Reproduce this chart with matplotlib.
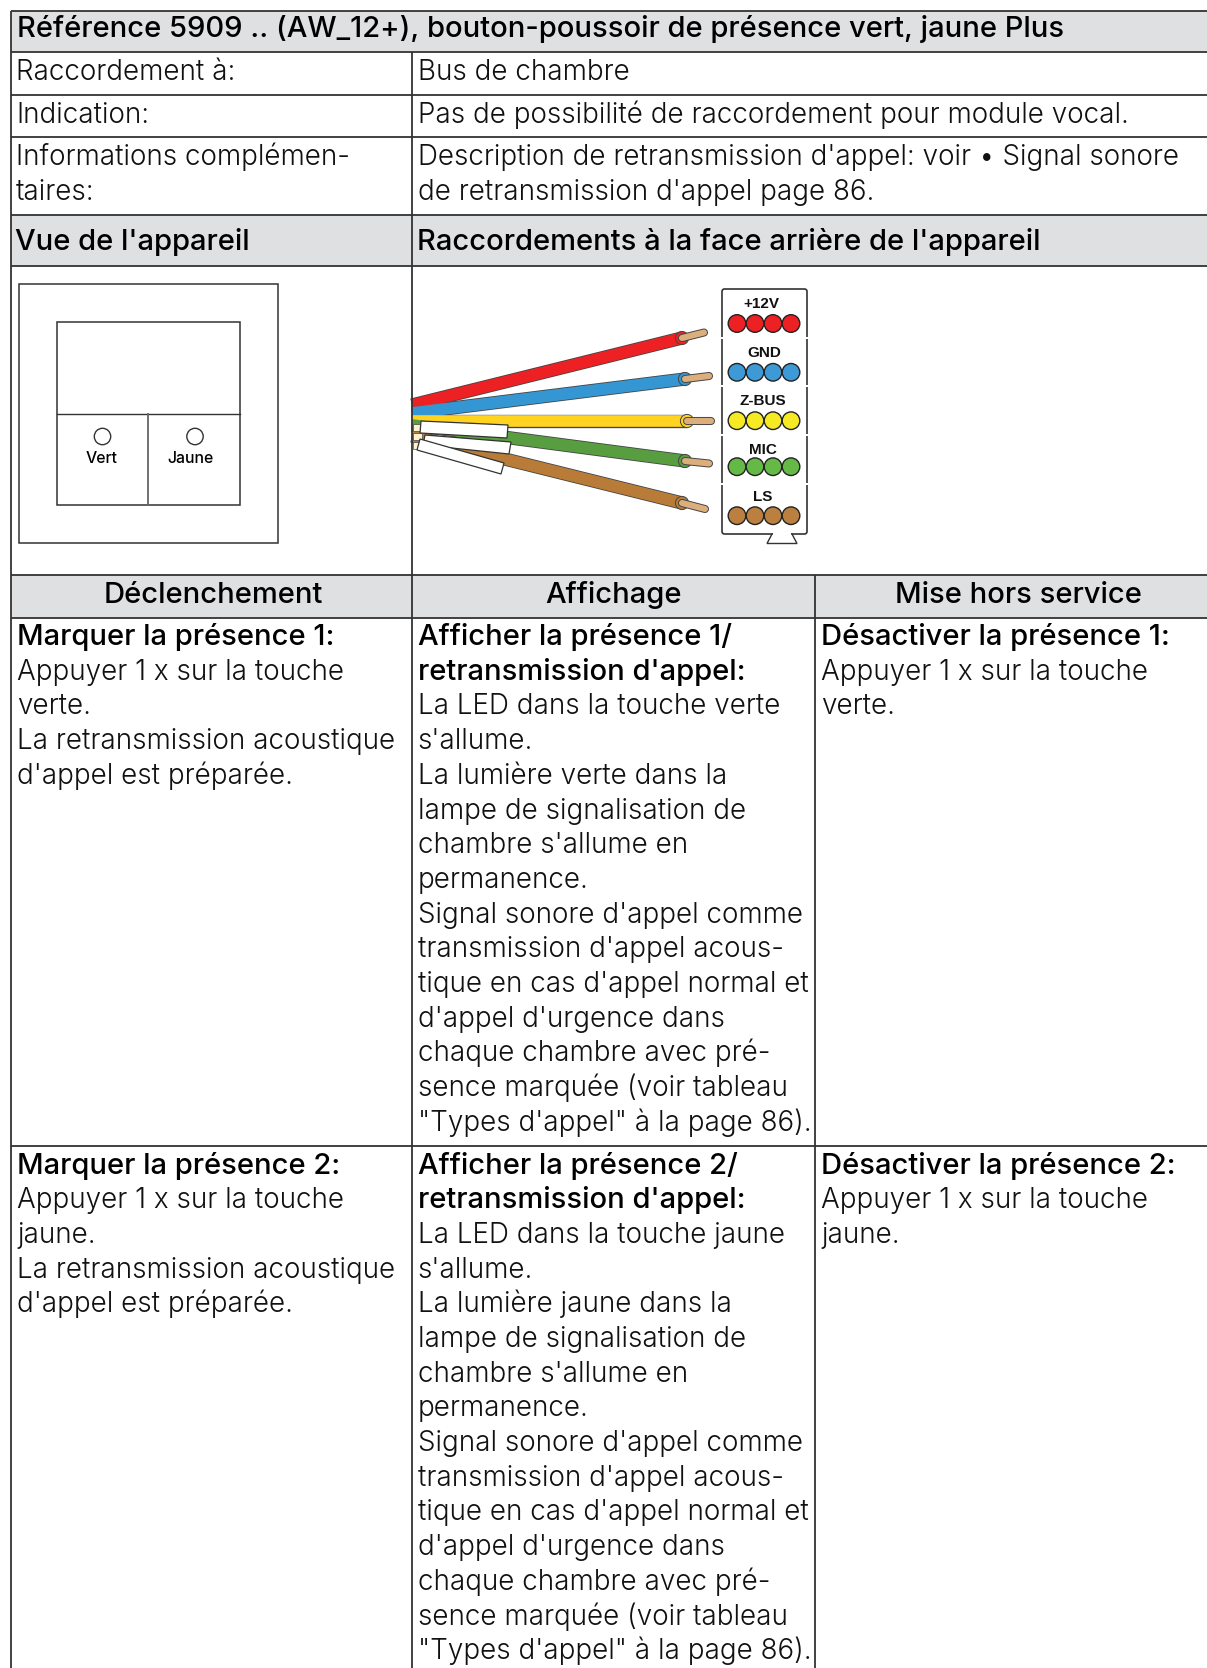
import matplotlib
matplotlib.use("Agg")
import matplotlib.pyplot as plt
from matplotlib.patches import Polygon, Circle, Rectangle, FancyBboxPatch

W, H = 1207, 1668
FONT = "Inter"
FS = 20.0
FS_HEAD = 21.0
GREY = "#dfe0e2"
LINE = "#333333"

# table text
title = "Référence 5909 .. (AW_12+), bouton-poussoir de présence vert, jaune Plus"
info_left = ["Raccordement à:", "Indication:", "Informations complémen-", "taires:"]
info_right = ["Bus de chambre",
              "Pas de possibilité de raccordement pour module vocal.",
              "Description de retransmission d'appel: voir • Signal sonore",
              "de retransmission d'appel page 86."]
head_view = "Vue de l'appareil"
head_conn = "Raccordements à la face arrière de l'appareil"
columns = ["Déclenchement", "Affichage", "Mise hors service"]

trig_1 = ["Marquer la présence 1:", "Appuyer 1 x sur la touche", "verte.",
          "La retransmission acoustique", "d'appel est préparée."]
disp_1 = ["Afficher la présence 1/", "retransmission d'appel:",
          "La LED dans la touche verte", "s'allume.", "La lumière verte dans la",
          "lampe de signalisation de", "chambre s'allume en", "permanence.",
          "Signal sonore d'appel comme", "transmission d'appel acous-",
          "tique en cas d'appel normal et", "d'appel d'urgence dans",
          "chaque chambre avec pré-", "sence marquée (voir tableau",
          "\"Types d'appel\" à la page 86)."]
off_1 = ["Désactiver la présence 1:", "Appuyer 1 x sur la touche", "verte."]
trig_2 = ["Marquer la présence 2:", "Appuyer 1 x sur la touche", "jaune.",
          "La retransmission acoustique", "d'appel est préparée."]
disp_2 = ["Afficher la présence 2/", "retransmission d'appel:",
          "La LED dans la touche jaune", "s'allume.", "La lumière jaune dans la",
          "lampe de signalisation de", "chambre s'allume en", "permanence.",
          "Signal sonore d'appel comme", "transmission d'appel acous-",
          "tique en cas d'appel normal et", "d'appel d'urgence dans",
          "chaque chambre avec pré-", "sence marquée (voir tableau",
          "\"Types d'appel\" à la page 86)."]
off_2 = ["Désactiver la présence 2:", "Appuyer 1 x sur la touche", "jaune."]

# connector
term_names = ["+12V", "GND", "Z-BUS", "MIC", "LS"]
term_colors = ["#ed2024", "#3d9ad6", "#f6ea24", "#65b946", "#bb8040"]
wire_colors = ["#ed2024", "#3497d3", "#ffd31f", "#589e40", "#b87c38"]
wire_start = [(412, 405), (412, 413), (412, 421), (412, 425), (412, 436)]
wire_end = [(682, 338), (685, 379), (687, 421), (685, 461), (682, 503)]
strip_end = [(704, 332.5), (709, 376), (711, 421), (709, 463.5), (705, 509)]
label_boxes = [[(421, 421), (508, 425), (507, 438), (420, 433)],
               [(425, 435), (511, 442), (509, 454), (423, 445)],
               [(420, 439), (504, 463), (501, 474), (417, 450)]]

fig = plt.figure(figsize=(W / 100, H / 100), dpi=100)
ax = fig.add_axes([0, 0, 1, 1])
ax.set_xlim(0, W)
ax.set_ylim(H, 0)
ax.axis("off")


def txt(x, y, s, bold=False, size=None, ha="left"):
    if size is None:
        size = FS_HEAD if bold else FS
    return ax.text(x, y, s, family=FONT, fontsize=size, ha=ha, va="baseline",
                   weight=500 if bold else 300, color="#000000" if bold else "#111111")


def hline(y, x0=10.5, x1=W):
    ax.plot([x0, x1], [y, y], color=LINE, lw=1.3, solid_capstyle="butt", zorder=5)


def vline(x, y0, y1):
    ax.plot([x, x], [y0, y1], color=LINE, lw=1.3, solid_capstyle="butt", zorder=5)


# grey header bands
for y0, y1 in [(10.5, 51.5), (214.5, 265.5), (575, 617.5)]:
    ax.add_patch(Rectangle((10.5, y0), W - 10.5, y1 - y0, fc=GREY, ec="none"))

for y in [10.5, 51.5, 94.5, 137, 214.5, 265.5, 575, 617.5, 1145.5]:
    hline(y)
vline(10.5, 10.5, H)
vline(412, 51.5, H)
vline(814.5, 575, H)

# header text
txt(17, 37, title, bold=True)
txt(16, 80, info_left[0])
txt(16, 122.5, info_left[1])
txt(16, 165, info_left[2])
txt(16, 200, info_left[3])
txt(417.5, 80, info_right[0])
txt(417.5, 122.5, info_right[1])
txt(417.5, 165, info_right[2])
txt(417.5, 200, info_right[3])
txt(15, 250, head_view, bold=True)
txt(417, 250, head_conn, bold=True)
for x, s in zip([213, 614, 1018], columns):
    txt(x, 603, s, bold=True, ha="center")


def cell(x, top, lines, n_bold):
    for i, s in enumerate(lines):
        txt(x, top + 34.7 * i, s, bold=i < n_bold)


cell(17, 645, trig_1, 1)
cell(417.5, 645, disp_1, 2)
cell(821, 645, off_1, 1)
cell(17, 1173.5, trig_2, 1)
cell(417.5, 1173.5, disp_2, 2)
cell(821, 1173.5, off_2, 1)

# device view
ax.add_patch(Rectangle((18.5, 283.5), 259, 259, fc="none", ec=LINE, lw=1.1))
ax.add_patch(Rectangle((56.5, 322), 183, 183, fc="none", ec=LINE, lw=1.1))
ax.plot([56.5, 239.5], [413.5, 413.5], color=LINE, lw=1)
ax.plot([148, 148], [413.5, 505], color="#666666", lw=1.3)
for x in [102.5, 195]:
    ax.add_patch(Circle((x, 436.5), 8.2, fc="none", ec=LINE, lw=1))
txt(101.7, 463, "Vert", bold=True, size=11.4, ha="center")
txt(190, 463, "Jaune", bold=True, size=11.4, ha="center")

# wires
for s, e, st, c in zip(wire_start, wire_end, strip_end, wire_colors):
    ax.plot([s[0], e[0]], [s[1], e[1]], color="#444444", lw=9.6, solid_capstyle="butt", zorder=2)
    ax.plot([s[0], e[0]], [s[1], e[1]], color=c, lw=8.4, solid_capstyle="butt", zorder=2.1)
    # insulation end ring, strand comes out of it
    ax.add_patch(Circle(e, 6.6, fc=c, ec="#444444", lw=0.7, zorder=2.2))
    ax.plot([e[0], st[0]], [e[1], st[1]], color="#444444", lw=5.8, solid_capstyle="round", zorder=2.3)
    ax.plot([e[0], st[0]], [e[1], st[1]], color="#dcae7c", lw=4.4, solid_capstyle="round", zorder=2.4)
for y in [424, 433, 442]:
    ax.add_patch(Rectangle((413, y), 9, 7, fc="#fdf3cf", ec="#444444", lw=0.5, zorder=3.3))
for b in label_boxes:
    ax.add_patch(Polygon(b, closed=True, fc="white", ec="#333333", lw=0.9, zorder=4))

# connector block
ax.add_patch(FancyBboxPatch((722, 289), 85, 245, boxstyle="round,pad=0,rounding_size=2.5",
                            fc="white", ec="#333333", lw=1.2, zorder=2))
ax.add_patch(Polygon([(772, 534), (767, 543.5), (797, 543.5), (792, 534)], closed=True,
                     fc="white", ec="#333333", lw=1, zorder=2))
ax.add_patch(Rectangle((772.6, 532), 18.8, 3.5, fc="white", ec="none", zorder=2.5))
row_y = [323.5, 372.3, 420.7, 466.7, 515.7]
label_y = [308, 356.7, 405, 454, 500.7]
label_x = [761.7, 764, 762.7, 762.7, 762.7]
for y, ly, lx, name, c in zip(row_y, label_y, label_x, term_names, term_colors):
    for k in range(4):
        ax.add_patch(Circle((737 + 18 * k, y), 8.8, fc=c, ec="#222222", lw=1, zorder=3))
    ax.text(lx, ly, name, family="Liberation Sans", weight="bold", fontsize=11, ha="center",
            va="baseline", color="#111111")
for y in [337.5, 386, 435, 484]:
    ax.add_patch(Rectangle((720, y - 1), 3.5, 2, fc="white", ec="none", zorder=3))
    ax.add_patch(Rectangle((805.5, y - 1), 3.5, 2, fc="white", ec="none", zorder=3))

fig.savefig("out.png", dpi=100)
